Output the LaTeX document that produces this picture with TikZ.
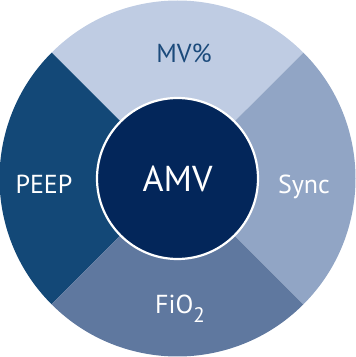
\documentclass[tikz,border=0pt]{standalone}
\usepackage{fontspec}
\setmainfont{PT Sans}
\definecolor{segtop}{HTML}{BFCCE3}
\definecolor{segright}{HTML}{91A5C5}
\definecolor{segbottom}{HTML}{5F789F}
\definecolor{segleft}{HTML}{134877}
\definecolor{core}{HTML}{03265A}
\definecolor{toptext}{HTML}{1B4A7B}
\begin{document}
\begin{tikzpicture}[x=1pt,y=1pt,
  seglabel/.style={anchor=base,font=\fontsize{26}{30}\selectfont,text=white,inner sep=0pt},
  corestyle/.style={circle,fill=core,draw=white,line width=2.2pt,minimum size=161pt,inner sep=0pt}]
\useasboundingbox (0,0) rectangle (356,357);
\coordinate (C) at (177.5,178.5);
\def\R{178}
\fill[segtop] (C) -- ++(45:\R) arc (45:135:\R) -- cycle;
\fill[segleft] (C) -- ++(135:\R) arc (135:225:\R) -- cycle;
\fill[segbottom] (C) -- ++(225:\R) arc (225:315:\R) -- cycle;
\fill[segright] (C) -- ++(-45:\R) arc (-45:45:\R) -- cycle;
\node[corestyle] (core) at (C) {};
\node[anchor=base,font=\fontsize{36}{40}\selectfont,text=white,inner sep=0pt] (amv) at (177.5,165) {AMV};
\node[seglabel,text=toptext] (mv) at (184,294) {MV\%};
\node[seglabel] (peep) at (44,164) {PEEP};
\node[seglabel] (sync) at (304,164) {Sync};
\node[seglabel] (fio) at (180,44) {FiO\raisebox{-9pt}{\fontsize{21}{24}\selectfont 2}};
\end{tikzpicture}
\end{document}
